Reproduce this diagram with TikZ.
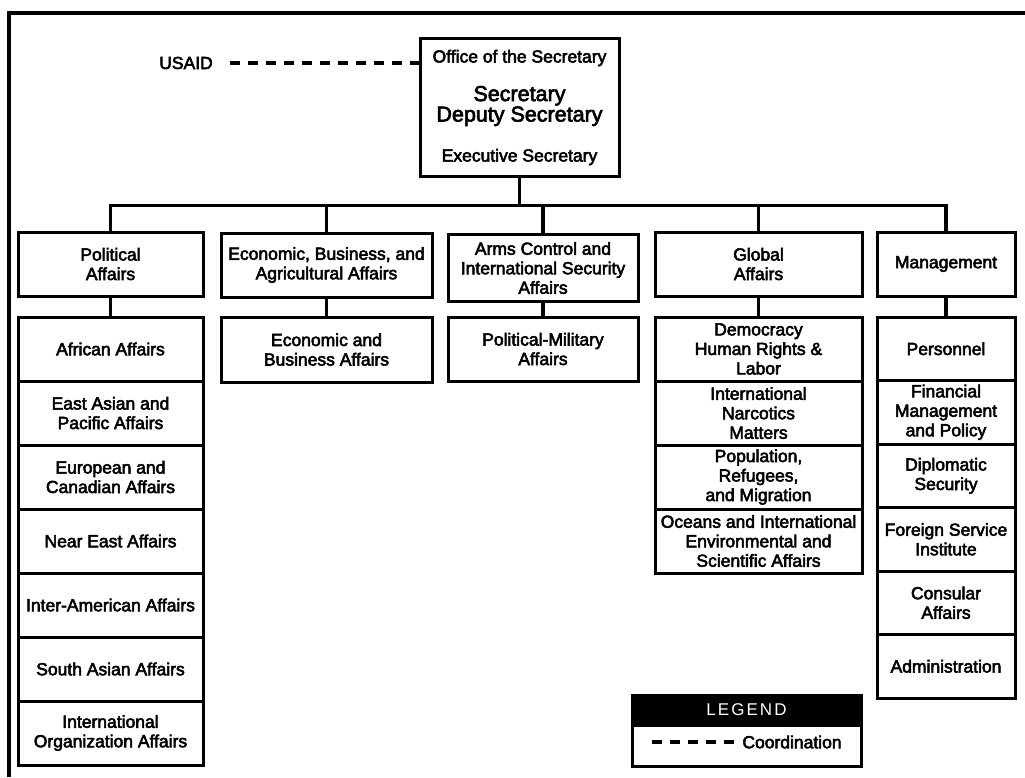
\documentclass[tikz,border=0pt]{standalone}
\usepackage{fontspec}
\usepackage{tikz}
\newfontfamily\orgfont{Liberation Sans}[FakeBold=3]
\newfontfamily\legfont{Liberation Sans}[LetterSpace=12]

\begin{document}
\begin{tikzpicture}[x=1pt, y=-1pt,
  box/.style={draw, line width=3pt, inner sep=0pt, align=center, font=\orgfont\fontsize{17.5}{19.5}\selectfont},
  txt/.style={inner sep=0pt, align=center, font=\orgfont\fontsize{17.5}{19.5}\selectfont},
  topbox/.style={box, minimum height=64},
  polbox/.style={box, minimum width=185, minimum height=64},
  globbox/.style={box, minimum width=207, minimum height=64},
  mgmtbox/.style={box, minimum width=138, minimum height=63.5},
  link/.style={line width=3.5pt},
  coordline/.style={line width=3.5pt, dash pattern=on 10pt off 8pt}]
\useasboundingbox (0,0) rectangle (1025,777);

% frame
\draw[line width=3.5pt] (9,777) -- (9,13) -- (1025,13);

% office of the secretary
\node[box, minimum width=199, minimum height=138] (sec) at (519.5,107) {};
\node[txt] (secoffice) at (519.5,58) {Office of the Secretary};
\node[txt, font=\orgfont\fontsize{21.5}{18}\selectfont] (sechead) at (519.5,106) {Secretary\\Deputy Secretary};
\node[txt] (secexec) at (519.5,157) {Executive Secretary};
\node[txt] (usaid) at (186,63) {USAID};
\draw[coordline] ([xshift=17]usaid.east) -- (sec.west |- usaid);

% bureaus
\node[topbox, minimum width=185] (pol) at (110.5,264) {Political\\Affairs};
\node[topbox, minimum width=211] (econ) at (326.5,265) {Economic, Business, and\\Agricultural Affairs};
\node[topbox, minimum width=190, minimum height=67] (arms) at (543,268) {Arms Control and\\International Security\\Affairs};
\node[topbox, minimum width=207] (glob) at (758.5,264) {Global\\Affairs};
\node[topbox, minimum width=138] (mgmt) at (946,264) {Management};

\coordinate (bus) at (519.5,207);
\draw[link] (sec.south) -- (bus);
\draw[link] (pol.north) -- ++(0,-25) -| (mgmt.north);
\draw[link] (econ.north) -- (econ.north |- bus);
\draw[link] (arms.north) -- (arms.north |- bus);
\draw[link] (glob.north) -- (glob.north |- bus);

% political affairs
\node[polbox] (afr) at (110.5,349) {African Affairs};
\node[polbox] (eap) at (110.5,413) {East Asian and\\Pacific Affairs};
\node[polbox] (eur) at (110.5,477) {European and\\Canadian Affairs};
\node[polbox] (nea) at (110.5,541) {Near East Affairs};
\node[polbox] (ara) at (110.5,605) {Inter-American Affairs};
\node[polbox] (sa) at (110.5,669) {South Asian Affairs};
\node[polbox] (io) at (110.5,733) {International\\Organization Affairs};
\draw[link] (pol.south) -- (afr.north);

% economic and arms control
\node[box, minimum width=211, minimum height=65] (eb) at (326.5,349.5) {Economic and\\Business Affairs};
\node[box, minimum width=190, minimum height=64] (pm) at (543,349) {Political-Military\\Affairs};
\draw[link] (econ.south) -- (eb.north);
\draw[link] (arms.south) -- (pm.north);

% global affairs
\node[globbox] (drl) at (758.5,349) {Democracy\\Human Rights \&\\Labor};
\node[globbox] (inm) at (758.5,413) {International\\Narcotics\\Matters};
\node[globbox] (prm) at (758.5,477) {Population,\\Refugees,\\and Migration};
\node[globbox] (oes) at (758.5,541) {Oceans and International\\Environmental and\\Scientific Affairs};
\draw[link] (glob.south) -- (drl.north);

% management
\node[mgmtbox] (per) at (946,348.75) {Personnel};
\node[mgmtbox] (fmp) at (946,412.25) {Financial\\Management\\and Policy};
\node[mgmtbox] (ds) at (946,475.75) {Diplomatic\\Security};
\node[mgmtbox] (fsi) at (946,539.25) {Foreign Service\\Institute};
\node[mgmtbox] (ca) at (946,602.75) {Consular\\Affairs};
\node[mgmtbox] (adm) at (946,666.25) {Administration};
\draw[link] (mgmt.south) -- (per.north);

% legend
\node[box, fill=black, text=white, minimum width=229, minimum height=30, font=\legfont\fontsize{17}{19}\selectfont] (legtop) at (746.5,710) {LEGEND};
\node[box, minimum width=229, minimum height=41] (legbody) at (746.5,745.5) {};
\coordinate (legdash) at (652,742);
\node[txt] (legtxt) at (792,742) {Coordination};
\draw[coordline] (legdash) -- ([xshift=-4]legtxt.west);
\end{tikzpicture}
\end{document}
